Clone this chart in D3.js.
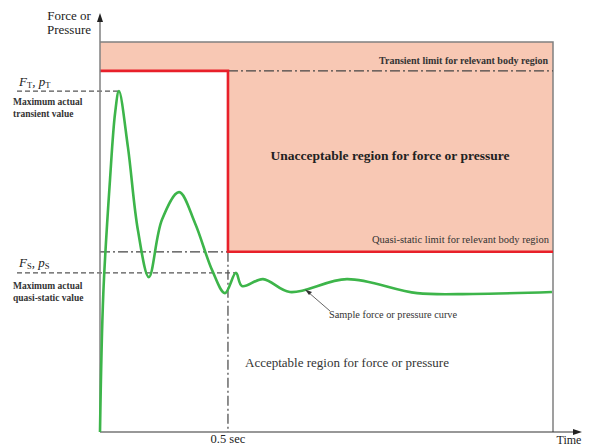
<!DOCTYPE html>
<html>
<head>
<meta charset="utf-8">
<script src="https://cdn.jsdelivr.net/npm/d3@7"></script>
<style>
html,body{margin:0;padding:0;background:#fff;}
svg{display:block;font-family:"Liberation Serif","DejaVu Serif",serif;}
</style>
</head>
<body>
<svg id="chart" width="590" height="447"></svg>
<script>
// ---- data ----
const curveTime  = [0, 0.013, 0.039, 0.059, 0.074, 0.109, 0.148, 0.191, 0.242, 0.309, 0.371, 0.438, 0.488, 0.531, 0.555, 0.637, 0.742, 0.965, 1.239, 1.457, 1.766];
const curveForce = [0, 35.6, 64.6, 81.8, 87.4, 73.1, 51.8, 39.7, 54.4, 61.5, 53.6, 41.5, 35.6, 40.8, 37.4, 39.2, 35.9, 39.2, 35.6, 35.4, 35.9];
const transientLimit = 92.6;
const quasiStaticLimit = 46.2;
const maxTransient = 87.4;
const maxQuasiStatic = 40.8;
const switchTime = 0.5;
const timeMax = 1.77;
const forceMax = 100;
const xTickLabels = ["0.5 sec"];

// ---- layout ----
const svg = d3.select("#chart");
const x = d3.scaleLinear().domain([0, timeMax]).range([100, 553]);
const y = d3.scaleLinear().domain([0, forceMax]).range([432, 42]);

const pink = "#f8c8b4", red = "#e8202a", green = "#3db54a", grey = "#808080", dark = "#444";

// unacceptable region (pink)
const pinkPath = d3.path();
pinkPath.moveTo(x(0), y(forceMax));
pinkPath.lineTo(x(timeMax), y(forceMax));
pinkPath.lineTo(x(timeMax), y(quasiStaticLimit));
pinkPath.lineTo(x(switchTime), y(quasiStaticLimit));
pinkPath.lineTo(x(switchTime), y(transientLimit));
pinkPath.lineTo(x(0), y(transientLimit));
pinkPath.closePath();
svg.append("path").attr("d", pinkPath.toString()).attr("fill", pink);

// box border (top & right)
svg.append("path")
  .attr("d", `M${x(0)},${y(forceMax)}H${x(timeMax)}V${y(0)}`)
  .attr("fill", "none").attr("stroke", grey).attr("stroke-width", 1.5);

// dash-dot limit lines
const dashDot = "10,3,2,3";
svg.append("line").attr("x1", x(switchTime)).attr("x2", x(timeMax))
  .attr("y1", y(transientLimit)).attr("y2", y(transientLimit))
  .attr("stroke", dark).attr("stroke-width", 1.2).attr("stroke-dasharray", dashDot);
svg.append("line").attr("x1", x(0)).attr("x2", x(switchTime))
  .attr("y1", y(quasiStaticLimit)).attr("y2", y(quasiStaticLimit))
  .attr("stroke", dark).attr("stroke-width", 1.2).attr("stroke-dasharray", dashDot);
svg.append("line").attr("x1", x(switchTime)).attr("x2", x(switchTime))
  .attr("y1", y(quasiStaticLimit)).attr("y2", y(0))
  .attr("stroke", dark).attr("stroke-width", 1.2).attr("stroke-dasharray", dashDot);

// dashed max lines
svg.append("line").attr("x1", 17).attr("x2", x(curveTime[curveForce.indexOf(maxTransient)]))
  .attr("y1", y(maxTransient)).attr("y2", y(maxTransient))
  .attr("stroke", "#555").attr("stroke-width", 1.1).attr("stroke-dasharray", "5,3");
svg.append("line").attr("x1", 17).attr("x2", x(curveTime[curveForce.indexOf(maxQuasiStatic)]))
  .attr("y1", y(maxQuasiStatic)).attr("y2", y(maxQuasiStatic))
  .attr("stroke", "#555").attr("stroke-width", 1.1).attr("stroke-dasharray", "5,3");

// red limit line
svg.append("path")
  .attr("d", `M${x(0)},${y(transientLimit)}H${x(switchTime)}V${y(quasiStaticLimit)}H${x(timeMax)}`)
  .attr("fill", "none").attr("stroke", red).attr("stroke-width", 2.6);

// axes
svg.append("line").attr("x1", x(0)).attr("x2", x(0)).attr("y1", y(0)).attr("y2", 20)
  .attr("stroke", grey).attr("stroke-width", 1.5);
svg.append("path").attr("d", `M${x(0)},13L${x(0)-3},22L${x(0)+3},22Z`).attr("fill", "#222");
svg.append("line").attr("x1", x(0)).attr("x2", 576).attr("y1", y(0)).attr("y2", y(0))
  .attr("stroke", "#333").attr("stroke-width", 1.2);
svg.append("path").attr("d", `M582,${y(0)}L573,${y(0)-3}L573,${y(0)+3}Z`).attr("fill", "#222");

// curve
const pts = curveTime.map((t, i) => [t, curveForce[i]]);
const line = d3.line().x(d => x(d[0])).y(d => y(d[1])).curve(d3.curveCatmullRom.alpha(0.5));
svg.append("path").attr("d", line(pts)).attr("fill", "none")
  .attr("stroke", green).attr("stroke-width", 2.6).attr("stroke-linejoin", "round");

// annotation arrow
svg.append("line").attr("x1", 330).attr("y1", 311).attr("x2", 308).attr("y2", 292)
  .attr("stroke", "#555").attr("stroke-width", 0.9);
svg.append("path").attr("d", "M305,289.5L312,292L309,295Z").attr("fill", "#333");

// texts
const txt = (s, xx, yy, opts = {}) => svg.append("text").attr("x", xx).attr("y", yy)
  .attr("font-size", opts.size || 10).attr("fill", opts.fill || "#333")
  .attr("font-weight", opts.weight || "normal").attr("text-anchor", opts.anchor || "start")
  .text(s);

txt("Force or", 69, 20, {size: 13, anchor: "middle", fill: "#222"});
txt("Pressure", 69, 34, {size: 13, anchor: "middle", fill: "#222"});

function subLabel(main1, sub1, main2, sub2, xx, yy) {
  const t = svg.append("text").attr("x", xx).attr("y", yy).attr("font-size", 13)
    .attr("fill", "#222").attr("font-style", "italic");
  t.append("tspan").text(main1);
  t.append("tspan").attr("font-size", 8.5).attr("font-style", "normal").attr("dy", 2).text(sub1);
  t.append("tspan").attr("dy", -2).text(", " + main2);
  t.append("tspan").attr("font-size", 8.5).attr("font-style", "normal").attr("dy", 2).text(sub2);
}
subLabel("F", "T", "p", "T", 19, 86);
subLabel("F", "S", "p", "S", 19, 267);

txt("Maximum actual", 13, 105, {size: 9.5, weight: 600});
txt("transient value", 13, 117, {size: 9.5, weight: 600});
txt("Maximum actual", 13, 289, {size: 9.5, weight: 600});
txt("quasi-static value", 13, 301, {size: 9.5, weight: 600});

txt("Transient limit for relevant body region", 548, 64, {size: 10, anchor: "end", weight: 600});
txt("Quasi-static limit for relevant body region", 549, 243, {size: 10.5, anchor: "end"});
txt("Unacceptable region for force or pressure", 390, 160, {size: 13.5, anchor: "middle", weight: "bold", fill: "#222"});
txt("Acceptable region for force or pressure", 245, 367, {size: 13, fill: "#333"});
txt("Sample force or pressure curve", 329, 318, {size: 10.3, fill: "#333"});

svg.append("g").selectAll("text").data(xTickLabels).join("text")
  .attr("x", x(switchTime)).attr("y", 443).attr("text-anchor", "middle")
  .attr("font-size", 12.5).attr("fill", "#222").text(d => d);
txt("Time", 569, 444, {size: 12, anchor: "middle", fill: "#222"});
</script>
</body>
</html>
